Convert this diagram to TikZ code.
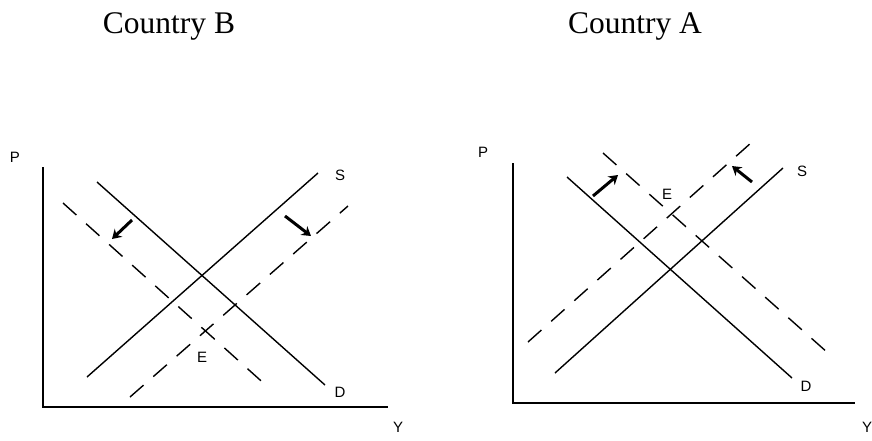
\documentclass[tikz,border=0pt]{standalone}
\usepackage{fontspec}
\setmainfont{Liberation Serif}
\setsansfont{Liberation Sans}
\usetikzlibrary{arrows.meta, positioning}

\begin{document}
\begin{tikzpicture}[
    x=1pt, y=-1pt,
    axis/.style={line width=2pt},
    curve/.style={line width=1.4pt},
    shifted/.style={line width=1.4pt, dash pattern=on 18pt off 13pt},
    shiftarr/.style={-{Stealth[length=9pt, width=11pt]}, line width=3pt},
    lbl/.style={font=\sffamily\fontsize{15}{15}\selectfont, inner sep=0pt},
    title/.style={font=\fontsize{31.5}{31.5}\selectfont, inner sep=0pt, anchor=base}
  ]
    \useasboundingbox (0,0) rectangle (872,440);

    % titles
    \node[title] (titleB) at (169,33) {Country B};
    \node[title] (titleA) at (635,33) {Country A};

    % Country B
    \coordinate (bO) at (43,407);
    \coordinate (bTop) at (43,167);
    \coordinate (bRight) at (388,407);
    \node[lbl] (bP) at (15,157) {P};
    \node[lbl] (bY) at (398,427) {Y};
    \draw[axis] (bTop) -- (bO) -- (bRight);

    \coordinate (bS0) at (87,377);
    \node[lbl] (bS) at (340,175) {S};
    \coordinate (bS1) at (318,173);
    \coordinate (bD0) at (97,182);
    \coordinate (bD1) at (325,385);
    \node[lbl] (bD) at (340,392) {D};
    \draw[curve] (bS0) -- (bS1);
    \draw[curve] (bD0) -- (bD1);

    \coordinate (bDd0) at (63,203);
    \coordinate (bDd1) at (269,388);
    \coordinate (bSd0) at (130,397);
    \coordinate (bSd1) at (348,206);
    \draw[shifted] (bDd0) -- (bDd1);
    \draw[shifted] (bSd0) -- (bSd1);
    \node[lbl] (bE) at (202,357) {E};

    \coordinate (bArrL0) at (132,220);
    \coordinate (bArrL1) at (112,239);
    \coordinate (bArrR0) at (285,216);
    \coordinate (bArrR1) at (311,236);
    \draw[shiftarr] (bArrL0) -- (bArrL1);
    \draw[shiftarr] (bArrR0) -- (bArrR1);

    % Country A
    \coordinate (aO) at (513,403);
    \coordinate (aTop) at (513,163);
    \coordinate (aRight) at (855,403);
    \node[lbl] (aP) at (483,152) {P};
    \node[lbl] (aY) at (867,427) {Y};
    \draw[axis] (aTop) -- (aO) -- (aRight);

    \coordinate (aS0) at (555,373);
    \coordinate (aS1) at (783,168);
    \node[lbl] (aS) at (802,171) {S};
    \coordinate (aD0) at (567,177);
    \coordinate (aD1) at (792,378);
    \node[lbl] (aD) at (806,386) {D};
    \draw[curve] (aS0) -- (aS1);
    \draw[curve] (aD0) -- (aD1);

    \coordinate (aSd0) at (528,342);
    \coordinate (aSd1) at (752,142);
    \coordinate (aDd0) at (603,153);
    \coordinate (aDd1) at (828,353);
    \draw[shifted] (aSd0) -- (aSd1);
    \draw[shifted] (aDd0) -- (aDd1);
    \node[lbl] (aE) at (667,194) {E};

    \coordinate (aArrL0) at (593,196);
    \coordinate (aArrL1) at (618,175);
    \coordinate (aArrR0) at (752,182);
    \coordinate (aArrR1) at (732,166);
    \draw[shiftarr] (aArrL0) -- (aArrL1);
    \draw[shiftarr] (aArrR0) -- (aArrR1);
\end{tikzpicture}
\end{document}
